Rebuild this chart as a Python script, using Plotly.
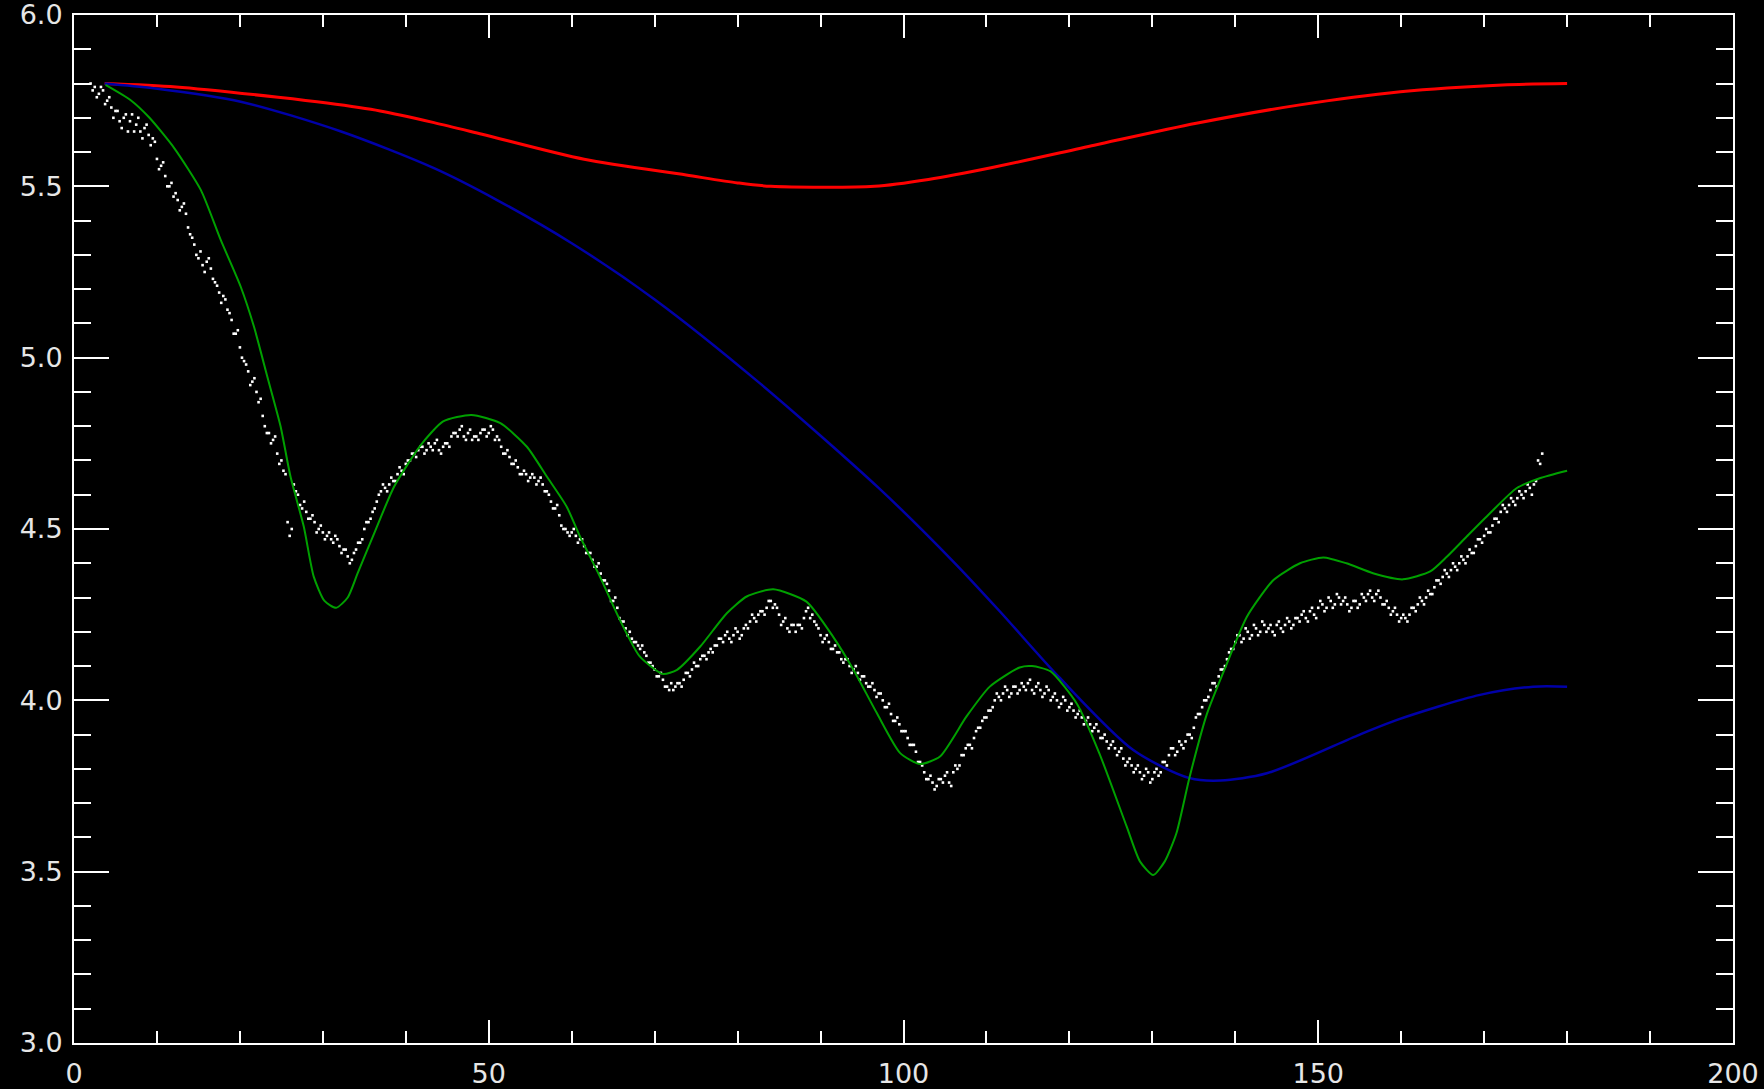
import plotly.graph_objects as go

# ---- data ----
red_x = [3.7, 12.3, 24.6, 30.5, 36.9, 43.4, 49.2, 61.5, 73.8, 80.0, 84.0, 96.5, 103.0, 110.7, 123.0, 135.3, 147.6, 159.9, 172.2, 180.0]
red_y = [5.80, 5.79, 5.76, 5.743, 5.72, 5.686, 5.652, 5.579, 5.533, 5.51, 5.50, 5.50, 5.52, 5.555, 5.62, 5.684, 5.737, 5.776, 5.796, 5.80]

blue_x = [3.7, 9.6, 20.1, 32.2, 43.4, 51.0, 60.0, 70.0, 82.7, 97.0, 106.0, 111.6, 118.7, 127.7, 134.5, 138.2, 143.8, 155.0, 159.5, 169.5, 175.9, 180.0]
blue_y = [5.80, 5.786, 5.747, 5.66, 5.553, 5.46, 5.334, 5.17, 4.925, 4.62, 4.405, 4.26, 4.069, 3.855, 3.773, 3.766, 3.787, 3.90, 3.943, 4.016, 4.04, 4.04]

green_x = [3.8, 6.8, 9.1, 12.1, 15.3, 17.7, 20.1, 21.7, 23.3, 24.9, 26.1, 27.7, 28.9, 30.2, 31.6, 33.0, 34.2, 36.2,
           38.6, 41.8, 44.5, 47.9, 51.4, 54.6, 57.0, 59.4, 61.0, 63.4, 65.8, 68.2, 71.0, 72.7, 75.5, 78.7, 81.1,
           84.3, 88.3, 91.5, 94.0, 96.8, 99.6, 102.0, 104.4, 107.6, 110.4, 114.0, 115.5, 117.7, 120.9, 123.6,
           126.9, 128.5, 130.1, 131.5, 132.9, 134.5, 136.6, 139.0, 141.4, 144.6, 147.8, 150.6, 153.4, 156.6,
           160.2, 163.5, 165.5, 167.9, 170.7, 173.9, 176.7, 180.0]
green_y = [5.796, 5.752, 5.70, 5.611, 5.489, 5.343, 5.207, 5.09, 4.945, 4.80, 4.653, 4.507, 4.361, 4.29, 4.27, 4.30, 4.371, 4.488,
           4.624, 4.745, 4.814, 4.833, 4.809, 4.74, 4.653, 4.565, 4.478, 4.361, 4.235, 4.128, 4.077, 4.089, 4.157, 4.254, 4.303,
           4.324, 4.288, 4.186, 4.088, 3.962, 3.846, 3.814, 3.836, 3.953, 4.04, 4.096, 4.10, 4.085, 3.99, 3.846,
           3.632, 3.53, 3.49, 3.53, 3.612, 3.777, 3.962, 4.108, 4.244, 4.351, 4.40, 4.417, 4.40, 4.371,
           4.353, 4.376, 4.419, 4.478, 4.546, 4.619, 4.648, 4.67]

# measured points, first set sampled every 0.5 starting at x = 2.0
dots_a_x0 = 2.0
dots_a_y = [
    5.80, 5.79, 5.77, 5.78, 5.75, 5.73, 5.72, 5.69, 5.70, 5.66,
    5.71, 5.68, 5.66, 5.67, 5.65, 5.64, 5.58, 5.56, 5.53, 5.50,
    5.47, 5.46, 5.44, 5.42, 5.36, 5.33, 5.29, 5.27, 5.28, 5.26,
    5.22, 5.19, 5.18, 5.14, 5.11, 5.07, 5.03, 4.99, 4.96, 4.93,
    4.90, 4.88, 4.80, 4.78, 4.76, 4.72, 4.70, 4.66, 4.48, 4.63,
    4.60, 4.56, 4.55, 4.53, 4.52, 4.50, 4.49, 4.48, 4.47, 4.48,
    4.45, 4.44, 4.42, 4.41, 4.44, 4.46, 4.50, 4.52, 4.55, 4.58,
    4.61, 4.62, 4.63, 4.64, 4.66, 4.67, 4.69, 4.70, 4.72, 4.73,
    4.74, 4.73, 4.74, 4.75, 4.73, 4.74, 4.75, 4.77, 4.78, 4.79,
    4.77, 4.78, 4.76, 4.77, 4.78, 4.79, 4.78, 4.79, 4.77, 4.74,
    4.72, 4.71, 4.69, 4.68, 4.66, 4.66, 4.65, 4.65, 4.64, 4.63,
    4.61, 4.58, 4.56, 4.54, 4.50, 4.49, 4.49, 4.48, 4.47, 4.45,
    4.43, 4.41, 4.39, 4.37, 4.35, 4.32, 4.29, 4.27, 4.23, 4.21,
    4.20, 4.17, 4.16, 4.16, 4.13, 4.11, 4.09, 4.07, 4.06, 4.04,
    4.05, 4.04, 4.05, 4.06, 4.08, 4.09, 4.10, 4.12, 4.13, 4.14,
    4.14, 4.16, 4.18, 4.19, 4.18, 4.19, 4.20, 4.19, 4.22, 4.23,
    4.24, 4.25, 4.26, 4.27, 4.29, 4.28, 4.25, 4.23, 4.21, 4.22,
    4.20, 4.22, 4.24, 4.27, 4.25, 4.22, 4.19, 4.18, 4.17, 4.15,
    4.14, 4.12, 4.12, 4.10, 4.09, 4.08, 4.07, 4.05, 4.04, 4.03,
    4.02, 4.00, 3.98, 3.96, 3.94, 3.93, 3.91, 3.89, 3.87, 3.85,
    3.82, 3.79, 3.77, 3.76, 3.75, 3.77, 3.78, 3.76, 3.79, 3.80,
    3.84, 3.86, 3.87, 3.89, 3.92, 3.94, 3.95, 3.97, 4.00, 4.01,
    4.02, 4.03, 4.02, 4.04, 4.03, 4.04, 4.05, 4.03, 4.04, 4.03,
    4.02, 4.03, 4.01, 4.00, 3.99, 4.00, 3.98, 3.97, 3.96, 3.95,
    3.94, 3.93, 3.92, 3.91, 3.89, 3.88, 3.87, 3.86, 3.85, 3.83,
    3.82, 3.81, 3.80, 3.79, 3.78, 3.79, 3.77, 3.80, 3.79, 3.82,
    3.84, 3.86, 3.85, 3.87, 3.88, 3.90, 3.92, 3.96, 3.98, 4.00,
    4.03, 4.05, 4.07, 4.09, 4.12, 4.15, 4.17, 4.19, 4.18, 4.20,
    4.19, 4.21, 4.20, 4.22, 4.21, 4.20, 4.22, 4.21, 4.22, 4.23,
    4.22, 4.24, 4.25, 4.24, 4.26, 4.25, 4.27, 4.28, 4.27, 4.29,
    4.28, 4.30, 4.29, 4.28, 4.27, 4.29, 4.28, 4.30, 4.31, 4.30,
    4.31, 4.30, 4.28, 4.27, 4.26, 4.25, 4.24, 4.24, 4.25, 4.27,
    4.28, 4.29, 4.30, 4.31, 4.33, 4.35, 4.36, 4.37, 4.38, 4.39,
    4.40, 4.41, 4.42, 4.43, 4.45, 4.47, 4.48, 4.49, 4.51, 4.53,
    4.55, 4.56, 4.57, 4.58, 4.59, 4.60, 4.61, 4.62, 4.63, 4.70,
    4.72,
]
# second set, sampled every 0.5 starting at x = 2.25
dots_b_x0 = 2.25
dots_b_y = [
    5.78, 5.76, 5.79, 5.74, 5.76, 5.70, 5.72, 5.67, 5.71, 5.69,
    5.66, 5.70, 5.64, 5.68, 5.62, 5.63, 5.55, 5.57, 5.50, 5.51,
    5.48, 5.43, 5.45, 5.38, 5.35, 5.30, 5.31, 5.25, 5.29, 5.23,
    5.21, 5.16, 5.17, 5.13, 5.07, 5.08, 5.00, 4.98, 4.92, 4.94,
    4.87, 4.83, 4.78, 4.75, 4.77, 4.69, 4.67, 4.52, 4.50, 4.61,
    4.57, 4.58, 4.53, 4.54, 4.49, 4.51, 4.47, 4.49, 4.46, 4.47,
    4.43, 4.44, 4.40, 4.43, 4.46, 4.47, 4.52, 4.53, 4.56, 4.60,
    4.63, 4.61, 4.65, 4.64, 4.68, 4.66, 4.70, 4.72, 4.71, 4.74,
    4.72, 4.75, 4.73, 4.76, 4.72, 4.75, 4.74, 4.78, 4.77, 4.80,
    4.76, 4.79, 4.77, 4.76, 4.79, 4.77, 4.80, 4.76, 4.76, 4.72,
    4.73, 4.69, 4.70, 4.66, 4.67, 4.64, 4.66, 4.63, 4.65, 4.61,
    4.60, 4.56, 4.57, 4.51, 4.50, 4.48, 4.50, 4.46, 4.47, 4.43,
    4.43, 4.39, 4.40, 4.35, 4.34, 4.29, 4.30, 4.24, 4.23, 4.19,
    4.18, 4.17, 4.15, 4.14, 4.11, 4.10, 4.07, 4.08, 4.04, 4.03,
    4.03, 4.05, 4.04, 4.08, 4.07, 4.11, 4.10, 4.13, 4.12, 4.15,
    4.16, 4.18, 4.17, 4.20, 4.17, 4.21, 4.18, 4.21, 4.21, 4.25,
    4.23, 4.26, 4.25, 4.29, 4.27, 4.27, 4.22, 4.24, 4.20, 4.22,
    4.22, 4.21, 4.26, 4.24, 4.23, 4.21, 4.17, 4.19, 4.15, 4.16,
    4.14, 4.11, 4.12, 4.08, 4.10, 4.06, 4.07, 4.04, 4.05, 4.01,
    4.02, 3.98, 3.99, 3.94, 3.95, 3.91, 3.91, 3.87, 3.87, 3.82,
    3.81, 3.77, 3.78, 3.74, 3.77, 3.76, 3.79, 3.75, 3.81, 3.81,
    3.84, 3.87, 3.86, 3.91, 3.92, 3.95, 3.97, 3.98, 4.02, 4.00,
    4.04, 4.01, 4.04, 4.02, 4.05, 4.03, 4.06, 4.02, 4.05, 4.01,
    4.04, 4.00, 4.02, 3.98, 4.01, 3.97, 3.99, 3.95, 3.97, 3.93,
    3.95, 3.91, 3.93, 3.89, 3.90, 3.86, 3.88, 3.84, 3.86, 3.81,
    3.83, 3.79, 3.81, 3.77, 3.80, 3.76, 3.79, 3.78, 3.82, 3.81,
    3.86, 3.84, 3.88, 3.86, 3.90, 3.89, 3.95, 3.96, 4.00, 4.01,
    4.05, 4.04, 4.09, 4.10, 4.14, 4.15, 4.19, 4.17, 4.21, 4.18,
    4.22, 4.19, 4.23, 4.20, 4.22, 4.19, 4.23, 4.20, 4.24, 4.21,
    4.24, 4.23, 4.26, 4.23, 4.27, 4.24, 4.29, 4.26, 4.30, 4.27,
    4.31, 4.28, 4.30, 4.26, 4.29, 4.27, 4.31, 4.29, 4.32, 4.29,
    4.32, 4.28, 4.29, 4.25, 4.27, 4.23, 4.25, 4.23, 4.27, 4.26,
    4.30, 4.28, 4.32, 4.31, 4.35, 4.34, 4.38, 4.36, 4.40, 4.38,
    4.42, 4.40, 4.44, 4.43, 4.47, 4.46, 4.50, 4.49, 4.53, 4.52,
    4.57, 4.55, 4.59, 4.57, 4.61, 4.59, 4.63, 4.60, 4.64, 4.69,
]
dots_step = 0.5
dots_x = [dots_a_x0 + dots_step * i for i in range(len(dots_a_y))] + \
         [dots_b_x0 + dots_step * i for i in range(len(dots_b_y))]
dots_y = dots_a_y + dots_b_y

x_range = [0, 200]
y_range = [3.0, 6.0]
x_ticks = [0, 50, 100, 150, 200]
y_ticks = [3.0, 3.5, 4.0, 4.5, 5.0, 5.5, 6.0]

fig = go.Figure()
fig.add_trace(go.Scatter(x=dots_x, y=dots_y, mode="markers",
                         marker=dict(symbol="square", size=2.6, color="#ffffff", line=dict(width=0)),
                         showlegend=False, hoverinfo="skip"))
fig.add_trace(go.Scatter(x=red_x, y=red_y, mode="lines", line=dict(color="#ff0000", width=3, shape="spline", smoothing=0.8),
                         showlegend=False))
fig.add_trace(go.Scatter(x=blue_x, y=blue_y, mode="lines", line=dict(color="#0000a8", width=2.5, shape="spline", smoothing=0.8),
                         showlegend=False))
fig.add_trace(go.Scatter(x=green_x, y=green_y, mode="lines", line=dict(color="#00a000", width=2, shape="spline", smoothing=0.6),
                         showlegend=False))

axis_font = dict(family="DejaVu Sans", size=27, color="#e6e6e6")

fig.update_xaxes(range=x_range, showgrid=False, zeroline=False, automargin=False,
                 showline=True, linecolor="#ffffff", linewidth=2, mirror="allticks",
                 ticks="inside", ticklen=23, tickwidth=2, tickcolor="#ffffff",
                 tickmode="array", tickvals=x_ticks, ticktext=[str(v) for v in x_ticks],
                 tickfont=axis_font, ticklabelstandoff=6, ticklabeloverflow="allow",
                 minor=dict(ticks="inside", ticklen=12, tickwidth=2, tickcolor="#ffffff", dtick=10, showgrid=False))
fig.update_yaxes(range=y_range, showgrid=False, zeroline=False, automargin=False,
                 showline=True, linecolor="#ffffff", linewidth=2, mirror="allticks",
                 ticks="inside", ticklen=35, tickwidth=2, tickcolor="#ffffff",
                 tickmode="array", tickvals=y_ticks, ticktext=[f"{v:.1f}" for v in y_ticks],
                 tickfont=axis_font, ticklabelstandoff=4, ticklabeloverflow="allow",
                 minor=dict(ticks="inside", ticklen=17, tickwidth=2, tickcolor="#ffffff", dtick=0.1, showgrid=False))

fig.update_layout(width=1764, height=1089,
                  margin=dict(l=74, r=31, t=15, b=46),
                  paper_bgcolor="#000000", plot_bgcolor="#000000",
                  showlegend=False)

fig.write_html("out.html",
               config={"displayModeBar": False},
               post_script="document.body.style.margin='0';document.body.style.background='#000';"
                           "document.documentElement.style.background='#000';document.body.style.overflow='hidden';")
